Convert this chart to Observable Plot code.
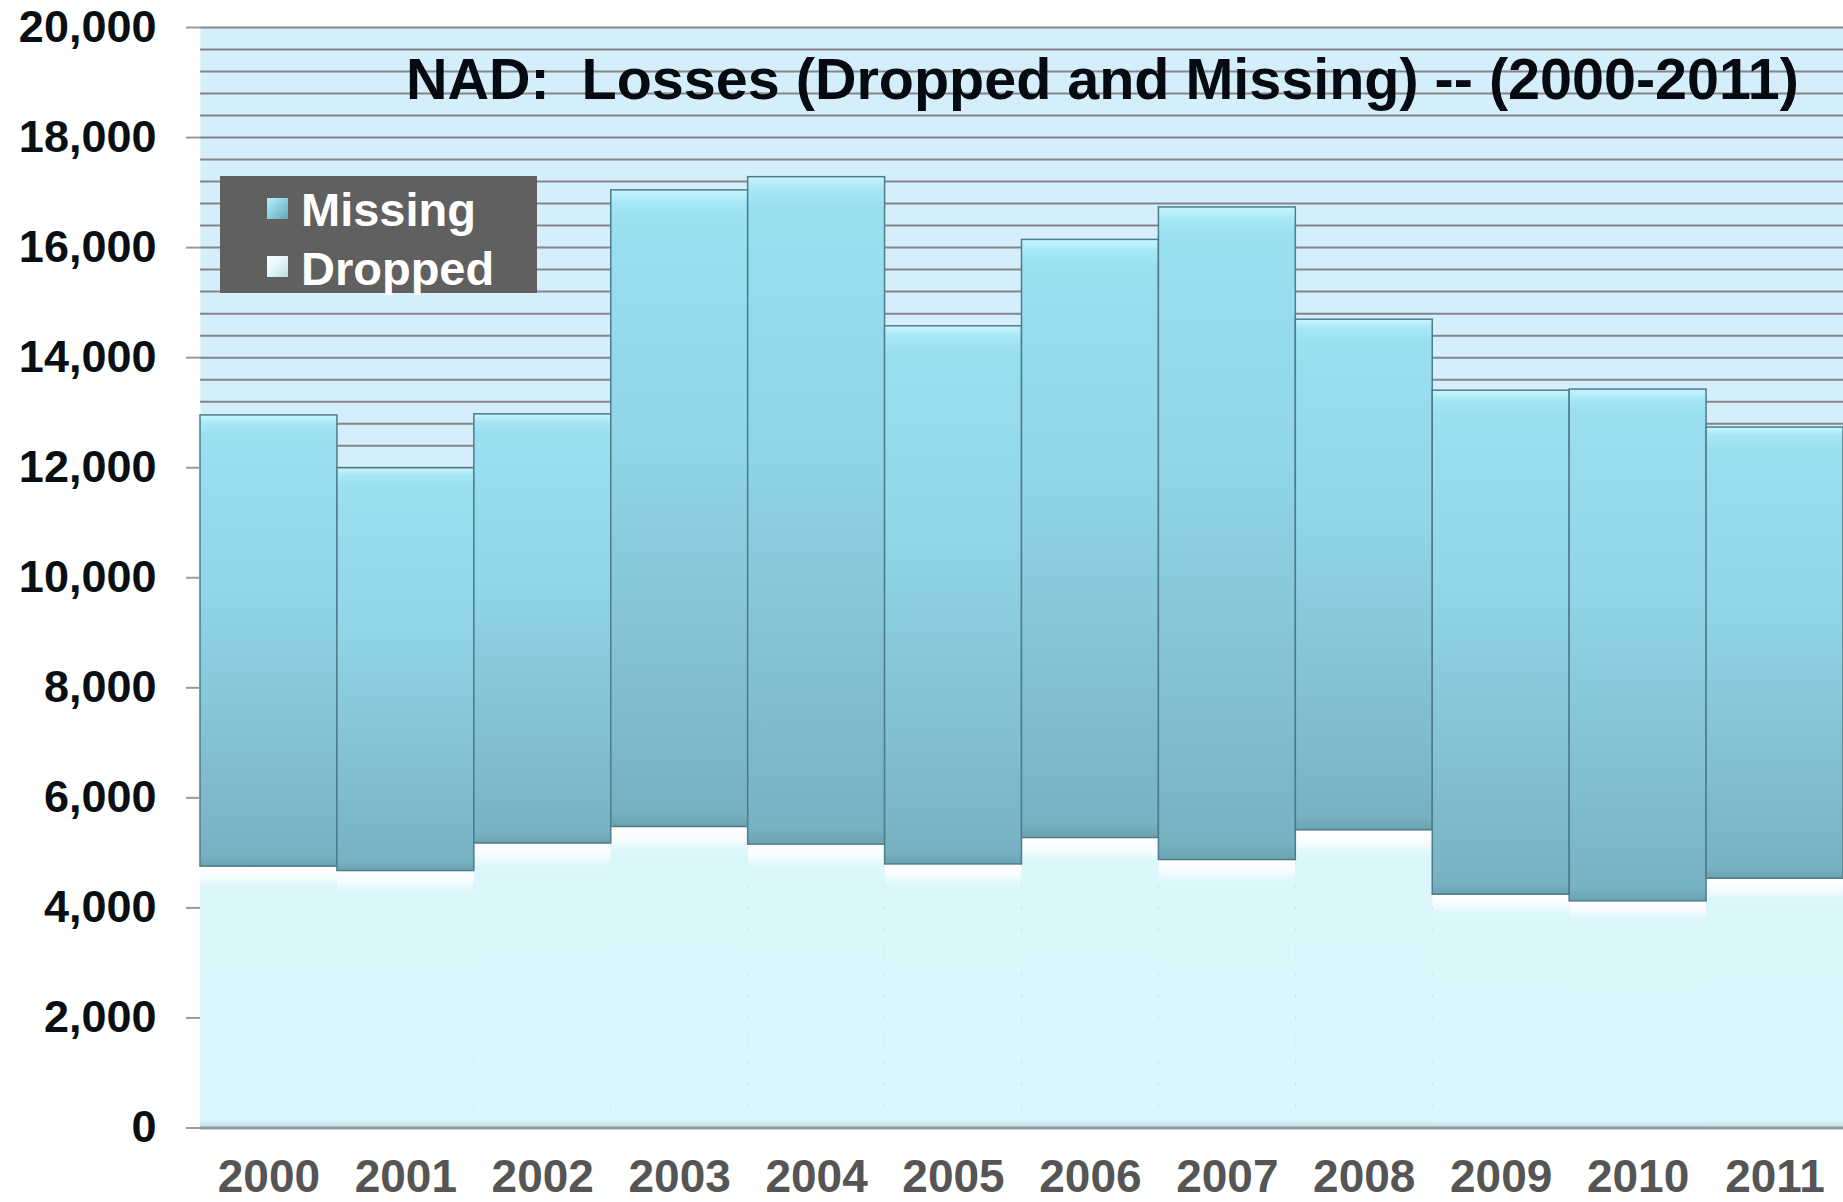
<!DOCTYPE html>
<html>
<head>
<meta charset="utf-8">
<script src="https://cdn.jsdelivr.net/npm/d3@7"></script>
<script src="https://cdn.jsdelivr.net/npm/@observablehq/plot@0.6"></script>
<style>
html, body { margin: 0; padding: 0; background: #ffffff; }
#wrap { position: relative; width: 1843px; height: 1202px; overflow: hidden;
  font-family: "Liberation Sans", Arial, sans-serif; }
#title { position: absolute; right: 44px; top: 50px; font-size: 57.5px; line-height: 58px;
  font-weight: bold; color: #050b10; white-space: pre; }
#legend { position: absolute; left: 220px; top: 176px; width: 317px; height: 117px; background: #606060; }
.sw { position: absolute; left: 47px; width: 21px; height: 21px; }
.lab { position: absolute; left: 81px; font-size: 47px; line-height: 47px; font-weight: bold; color: #ffffff; white-space: pre; }
</style>
</head>
<body>
<div id="wrap"></div>
<script>
// ---- data ----
const years   = ["2000","2001","2002","2003","2004","2005","2006","2007","2008","2009","2010","2011"];
const dropped = [4750, 4670, 5170, 5470, 5150, 4790, 5270, 4870, 5410, 4240, 4120, 4530];
const missing = [8200, 7320, 7800, 11570, 12130, 9780, 10870, 11860, 9280, 9160, 9300, 8200];
const yTicks  = [0, 2000, 4000, 6000, 8000, 10000, 12000, 14000, 16000, 18000, 20000];
const seriesNames = ["Missing", "Dropped"];
const titleText = "NAD:  Losses (Dropped and Missing) -- (2000-2011)";

const rows = years.map((year, i) => ({year, dropped: dropped[i], missing: missing[i], total: dropped[i] + missing[i]}));

const chart = Plot.plot({
  width: 1843,
  height: 1202,
  marginLeft: 200,
  marginRight: 0,
  marginTop: 27,
  marginBottom: 74.5,
  style: {background: "transparent", fontFamily: "'Liberation Sans', Arial, sans-serif", overflow: "visible"},
  x: {type: "band", domain: years, padding: 0, round: false, label: null},
  y: {domain: [0, 20000], label: null},
  marks: [
    Plot.frame({fill: "#d4effb", stroke: "none"}),
    Plot.gridY({interval: 400, stroke: "#858585", strokeOpacity: 1, strokeWidth: 2}),
    Plot.barY(rows, {x: "year", y1: 0, y2: "dropped", fill: "url(#gDropped)", inset: 0}),
    Plot.barY(rows, {x: "year", y1: "dropped", y2: "total", fill: "url(#gMissing)", stroke: "#4e7c89", strokeWidth: 1.5, inset: 0}),
    Plot.ruleY([0], {stroke: "#8a9ba1", strokeWidth: 3}),
    Plot.axisY({ticks: yTicks, tickFormat: d3.format(","), tickSize: 14, tickPadding: 30,
      fontSize: 45, fontWeight: "bold", fill: "#0a0f14", stroke: "#9a9a9a", strokeWidth: 2, line: true, label: null}),
    Plot.axisX({tickSize: 0, tickPadding: 31, fontSize: 46, fontWeight: "bold", fill: "#555555", label: null})
  ]
});

// gradients for the bevelled bars
const svg = d3.select(chart);
const defs = svg.insert("defs", ":first-child");
function grad(id, stops) {
  const g = defs.append("linearGradient").attr("id", id).attr("x1", 0).attr("y1", 0).attr("x2", 0).attr("y2", 1);
  stops.forEach(([o, c]) => g.append("stop").attr("offset", o).attr("stop-color", c));
}
grad("gMissing", [["0", "#c9f5fc"], ["0.02", "#a6e7f6"], ["0.045", "#9ae0f1"], ["0.4", "#90d5e8"], ["0.975", "#77b2c3"], ["1", "#6aa2b2"]]);
grad("gDropped", [["0", "#ffffff"], ["0.04", "#f8fdff"], ["0.08", "#dcf7fc"], ["0.97", "#daf5fb"], ["1", "#c4dde4"]]);

const wrap = document.getElementById("wrap");
wrap.appendChild(chart);

// title
const t = document.createElement("div");
t.id = "title";
t.textContent = titleText;
wrap.appendChild(t);

// legend
const lg = document.createElement("div");
lg.id = "legend";
const swatchBg = {
  "Missing": "linear-gradient(135deg, #b8eef8 0%, #8ed3e5 45%, #6aa3b3 100%)",
  "Dropped": "linear-gradient(135deg, #ffffff 0%, #e4f8fc 45%, #bcd8e0 100%)"
};
const swTop = [21.5, 80];
const labTop = [10, 69];
seriesNames.forEach((name, i) => {
  const sw = document.createElement("div");
  sw.className = "sw";
  sw.style.top = swTop[i] + "px";
  sw.style.background = swatchBg[name];
  lg.appendChild(sw);
  const lab = document.createElement("div");
  lab.className = "lab";
  lab.style.top = labTop[i] + "px";
  lab.textContent = name;
  lg.appendChild(lab);
});
wrap.appendChild(lg);
</script>
</body>
</html>
